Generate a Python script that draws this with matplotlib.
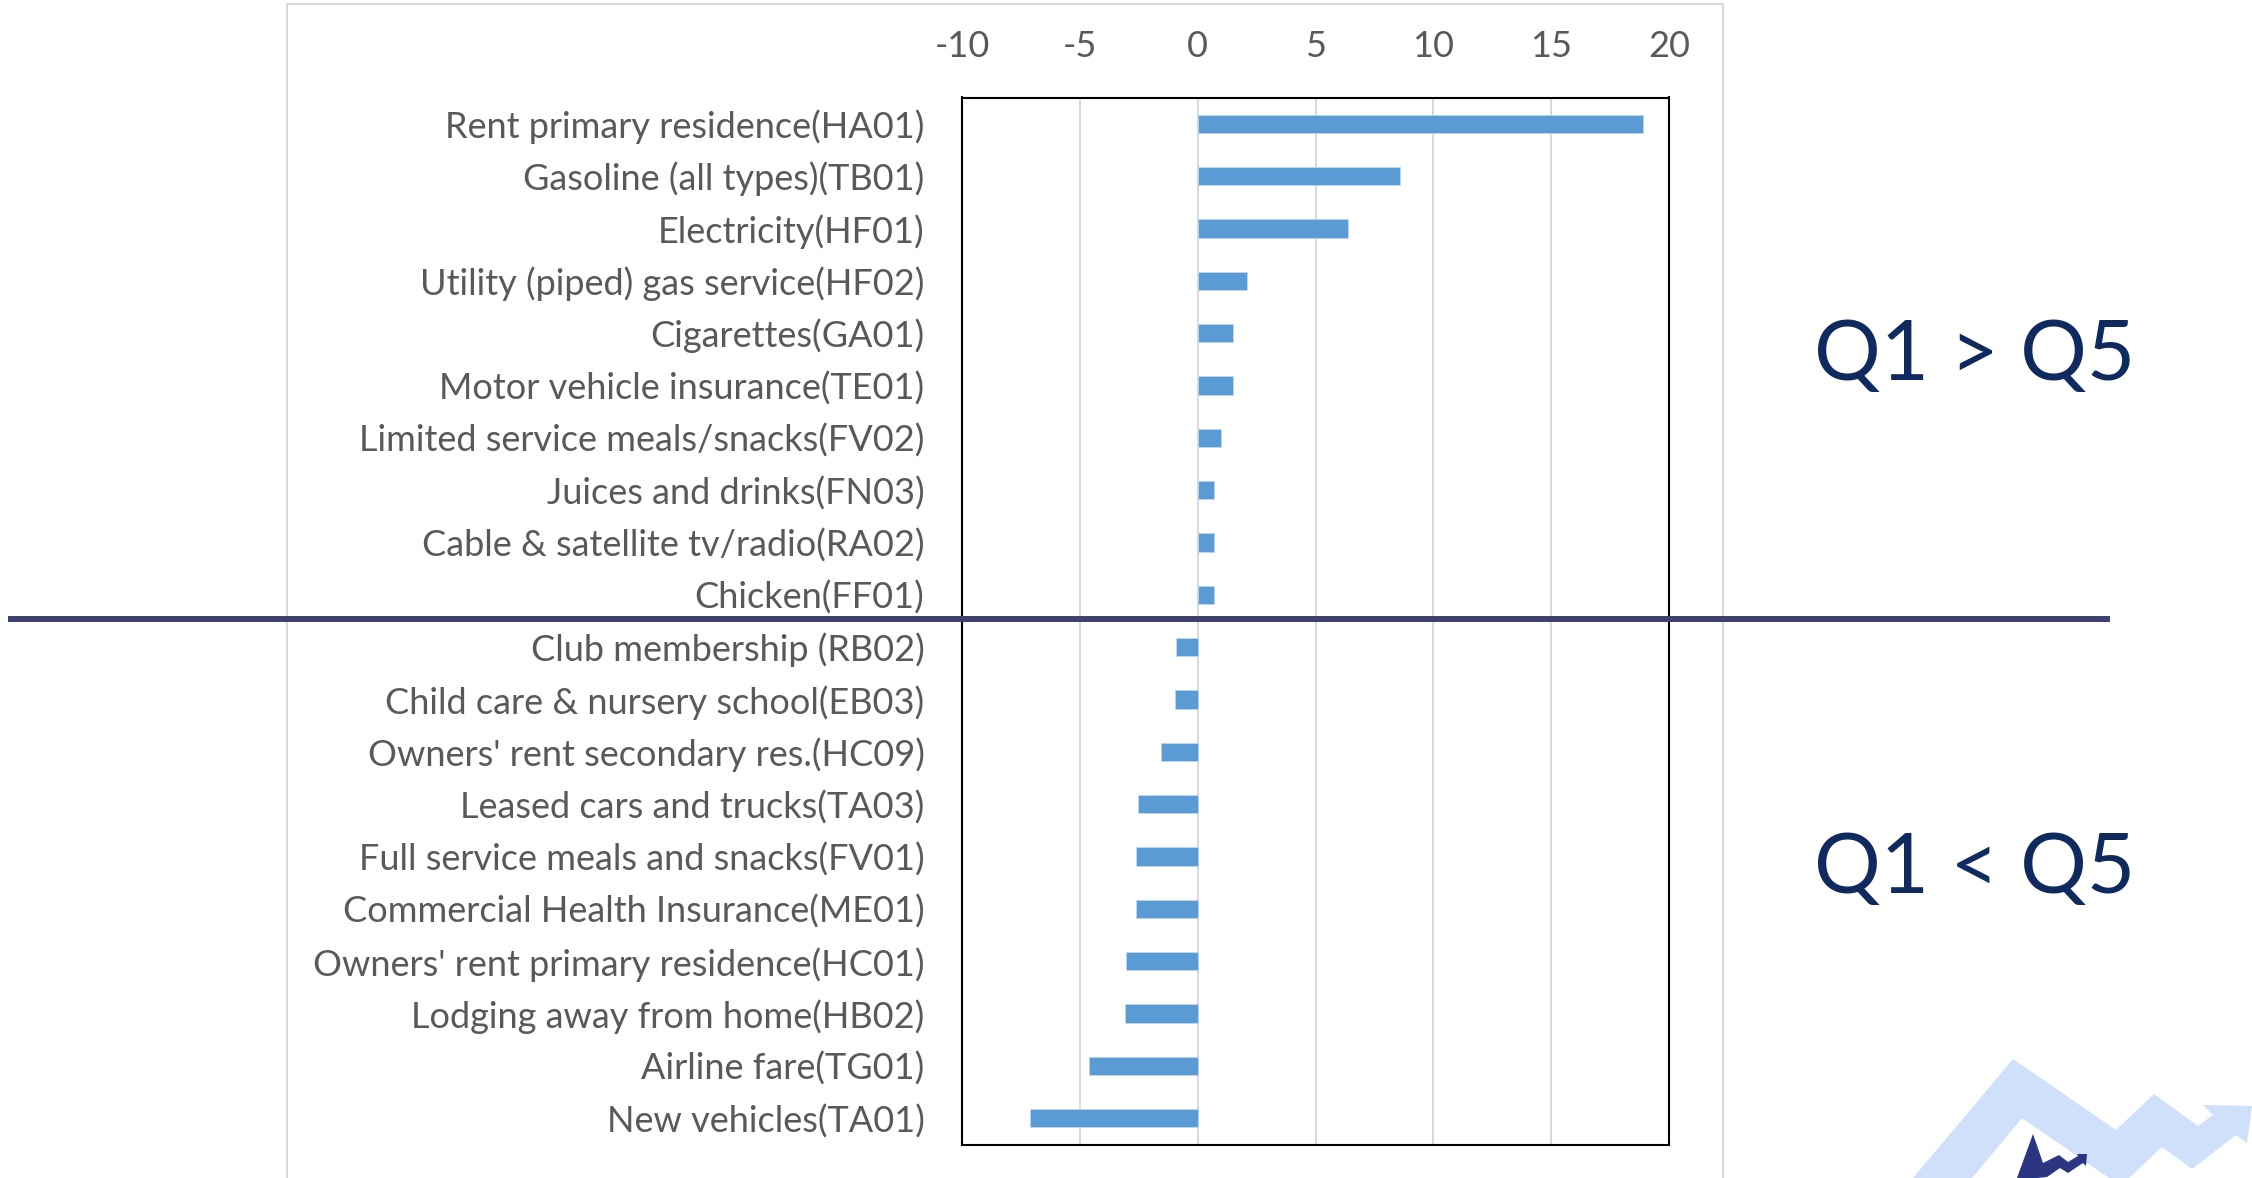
import matplotlib
matplotlib.use('Agg')
import matplotlib.pyplot as plt
from matplotlib.patches import Polygon, Rectangle
from matplotlib.lines import Line2D
import numpy as np

plt.rcParams['font.family'] = ['Lato', 'DejaVu Sans']

categories = [
    "Rent primary residence(HA01)",
    "Gasoline (all types)(TB01)",
    "Electricity(HF01)",
    "Utility (piped) gas service(HF02)",
    "Cigarettes(GA01)",
    "Motor vehicle insurance(TE01)",
    "Limited service meals/snacks(FV02)",
    "Juices and drinks(FN03)",
    "Cable & satellite tv/radio(RA02)",
    "Chicken(FF01)",
    "Club membership (RB02)",
    "Child care & nursery school(EB03)",
    "Owners' rent secondary res.(HC09)",
    "Leased cars and trucks(TA03)",
    "Full service meals and snacks(FV01)",
    "Commercial Health Insurance(ME01)",
    "Owners' rent primary residence(HC01)",
    "Lodging away from home(HB02)",
    "Airline fare(TG01)",
    "New vehicles(TA01)",
]
values = [18.9, 8.6, 6.4, 2.1, 1.5, 1.5, 1.0, 0.7, 0.7, 0.7,
          -0.9, -0.95, -1.55, -2.55, -2.6, -2.6, -3.05, -3.1, -4.6, -7.1]
xticks = [-10, -5, 0, 5, 10, 15, 20]

W, H = 2252, 1178
fig = plt.figure(figsize=(W / 100, H / 100), dpi=100)

# light grey chart-area border
fig.add_artist(Rectangle((287 / W, -0.05), (1723 - 287) / W, 1.05 - 4 / H,
                         transform=fig.transFigure, fill=False,
                         edgecolor='#D9D9D9', lw=1.5))

ax = fig.add_axes([962 / W, (H - 1144.5) / H, 707 / W, 1047 / H])
y = np.arange(len(categories))
ax.barh(y, values, height=0.35, color='#5B9BD5', edgecolor='#BDD7EE', lw=0.6, zorder=3)
ax.set_ylim(len(categories) - 0.5, -0.5)
ax.set_xlim(-10, 20)
ax.set_xticks(xticks)
ax.set_xticklabels([str(t) for t in xticks])
ax.xaxis.tick_top()
ax.tick_params(axis='x', length=0, pad=25, labelsize=26, labelcolor='#595959')
ax.set_yticks(y)
ax.set_yticklabels(categories)
ax.tick_params(axis='y', length=0, pad=27, labelsize=26, labelcolor='#595959')
ax.grid(axis='x', color='#D9D9D9', lw=1.5, zorder=0)
for s in ax.spines.values():
    s.set_color('black')
    s.set_linewidth(1.5)

# divider between the two groups
fig.add_artist(Line2D([11 / W, 2107 / W], [1 - 619 / H, 1 - 619 / H],
                      color='#3E4170', lw=4.3, transform=fig.transFigure))

fig.text(1975 / W, 1 - 357 / H, "Q1 > Q5", ha='center', va='center',
         fontsize=60, color='#0E2A5E')
fig.text(1975 / W, 1 - 870 / H, "Q1 < Q5", ha='center', va='center',
         fontsize=60, color='#0E2A5E')

# logo in the corner
light = [(1913, 1178), (2013, 1059), (2116, 1130), (2154, 1094), (2198, 1126),
         (2213, 1115), (2203, 1105), (2252, 1106), (2247, 1143), (2236, 1135),
         (2192, 1169), (2162, 1147), (2129, 1178), (2109, 1178), (2022, 1118),
         (1972, 1178)]
dark = [(2017, 1178), (2033, 1134), (2043, 1163), (2059, 1155), (2068, 1162),
        (2078, 1156), (2077, 1154), (2087, 1154), (2086, 1166), (2083, 1163),
        (2068, 1173), (2060, 1168), (2047, 1177), (2037, 1178)]
for pts, col in [(light, '#CFE0FA'), (dark, '#2B3582')]:
    fig.add_artist(Polygon([(px / W, 1 - py / H) for px, py in pts], closed=True,
                           transform=fig.transFigure, facecolor=col, edgecolor='none'))

fig.savefig('out.png', dpi=100)
